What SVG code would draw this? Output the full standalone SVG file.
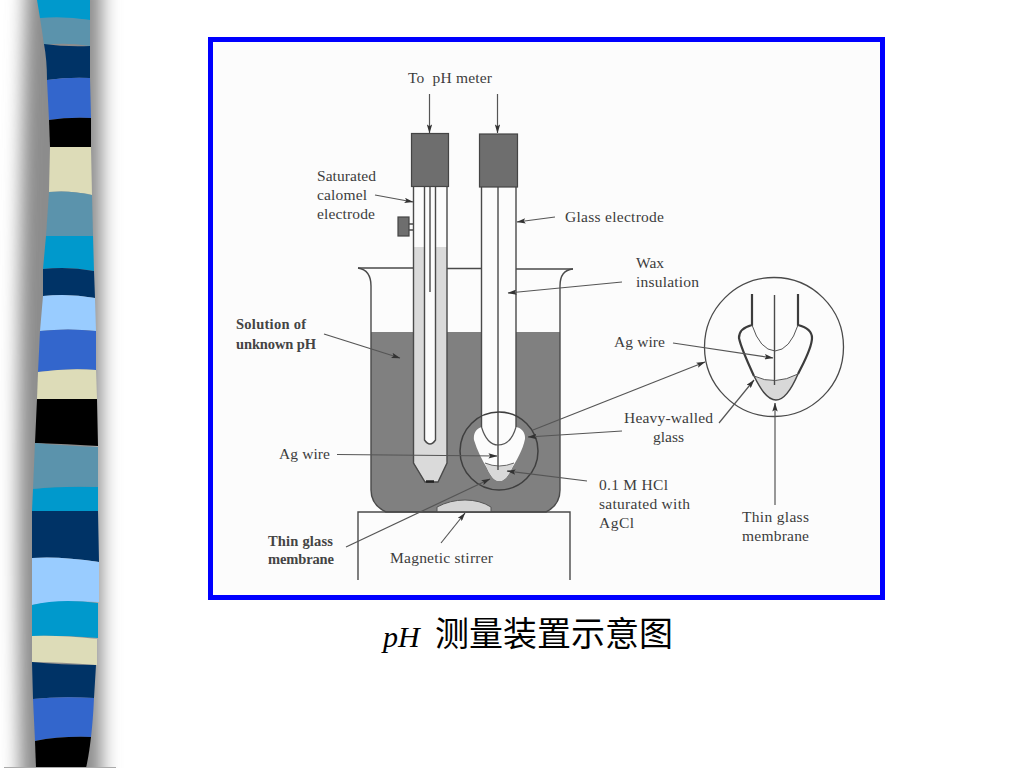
<svg xmlns="http://www.w3.org/2000/svg" width="1024" height="768" viewBox="0 0 1024 768">
<defs>
<filter id="blur" x="-100%" y="-5%" width="300%" height="110%"><feGaussianBlur stdDeviation="9"/></filter>
<marker id="arr" viewBox="0 0 10 6" refX="9.5" refY="3" markerWidth="9" markerHeight="5.5" markerUnits="userSpaceOnUse" orient="auto"><path d="M0 0L10 3L0 6L2 3Z" fill="#333"/></marker>
</defs>
<style>
text{font-family:"Liberation Serif","Times New Roman",serif;font-size:15.5px;fill:#3c3c3c;white-space:pre}
.b{font-weight:bold;fill:#444;font-size:14.5px}
.l{fill:none;stroke:#4a4a4a;stroke-width:1.4}
.h{fill:none;stroke:#3c3c3c;stroke-width:2.2}
.c{fill:none;stroke:#555;stroke-width:1.2;marker-end:url(#arr)}
.cap{fill:#6e6e6e;stroke:#444;stroke-width:1.2}
</style>
<rect width="1024" height="768" fill="#fff"/>
<g id="sidebar">
<path d="M26 -20H102V788H20Q14 400 26 -20Z" fill="#8c8c8c" filter="url(#blur)"/>
<path d="M37 0H90V20L40 18Z" fill="#0099cc"/>
<path d="M40 18Q65 16 90 20V46Q65 42 44 45Q42 30 40 18Z" fill="#5b93ac"/>
<path d="M44 44Q65 47 90 46V78Q68 77 47 80Q47 60 44 44Z" fill="#003366"/>
<path d="M47 80Q68 77 90 78L91 118Q68 117 49 120Z" fill="#3366cc"/>
<path d="M49 120Q68 117 91 118V147H50Z" fill="#000"/>
<path d="M50 147H91L92 195Q70 190 49 192Z" fill="#dddcb8"/>
<path d="M49 192Q70 190 92 195L93 236H46Z" fill="#5b93ac"/>
<path d="M46 236H93L94 271Q68 266 43 269Z" fill="#0099cc"/>
<path d="M43 269Q68 266 94 271L95 298Q68 293 43 296Z" fill="#003366"/>
<path d="M43 296Q68 293 95 298L96 331Q68 328 40 331Z" fill="#99ccff"/>
<path d="M40 331Q68 328 96 331V370Q68 368 38 372Z" fill="#3366cc"/>
<path d="M38 372Q68 368 96 370L97 399H37Z" fill="#dddcb8"/>
<path d="M37 399H97L98 446Q68 444 35 443Z" fill="#000"/>
<path d="M35 443Q68 446 98 447V487Q60 486 33 489Z" fill="#5b93ac"/>
<path d="M33 489Q60 486 98 487V511H32Z" fill="#0099cc"/>
<path d="M32 511H98L99 562Q60 556 32 558Z" fill="#003366"/>
<path d="M32 558Q60 556 99 562V602Q60 600 32 605Z" fill="#99ccff"/>
<path d="M32 605Q60 598 98 603V638Q60 635 32 636Z" fill="#0099cc"/>
<path d="M32 636Q60 635 97 639V665Q60 662 32 662Z" fill="#dddcb8"/>
<path d="M32 662Q60 665 96 665L94 698Q60 696 33 699Z" fill="#003366"/>
<path d="M33 699Q60 696 94 698Q93 720 91 737Q60 736 35 741Z" fill="#3366cc"/>
<path d="M35 741Q60 736 91 737Q89 755 86 768H36Z" fill="#000"/>
<rect x="4" y="767" width="112" height="1" fill="#aaa"/>
</g>
<rect id="frame" x="210.500" y="39.500" width="672" height="558" fill="#fcfcfc" stroke="#0000ff" stroke-width="5"/>
<g id="beaker">
<path d="M371 332H560V490Q560 505 546 512H386Q371 505 371 490Z" fill="#808080"/>
<path d="M358 268Q371 270 371 286V490Q371 505 386 512H546Q560 505 560 490V286Q560 270 573 269" class="l"/>
<path d="M358 268H413M447 268.500H481M516 269H573" class="l"/>
</g>
<g id="stirrer">
<path d="M437 512V507Q450 500 465 500Q480 500 491 507V512Z" fill="#d4d4d4" stroke="#555"/>
<path d="M358 580V512H570V580" class="l"/>
</g>
<g id="calomel-electrode">
<path d="M414 247H447V463L438 482H425L414 463Z" fill="#dadada"/>
<path d="M424 187H436V440Q430 448 424 440Z" fill="#fcfcfc"/>
<path d="M413.500 187V463L425 482H438L447 463V187" class="l"/>
<path d="M424.500 187V440Q430 448 435.500 440V187" class="l"/>
<path d="M430 187V292" class="l"/>
<path d="M426 481.500H434" stroke="#222" stroke-width="2.500"/>
<rect class="cap" x="411.500" y="133.500" width="37" height="53"/>
<rect class="cap" x="398" y="217" width="11" height="19"/>
<path d="M409 224H413M409 230H413" class="l"/>
</g>
<g id="glass-electrode">
<path d="M482 187H516V427C522 428 525.500 433 525 439C523 450 516 461 511 470C508 476 504 481 499 481C495 481 491 477 487 468C482 460 477 450 474 440C473 433 477 428 482 427Z" fill="#fcfcfc"/>
<path d="M485 463Q499 469 514 463L511 470C508 476 504 481 499 481C495 481 491 477 487 468Z" fill="#d8d8d8"/>
<path d="M481.500 187V427M516 187V427" class="l"/>
<path d="M481.500 427Q487 445 498 445Q511 445 516 427" fill="none" stroke="#555" stroke-width="1.200"/>
<path d="M485 463Q499 469 514 463" fill="none" stroke="#666" stroke-width="1"/>
<path d="M498 187V470" class="l"/>
<rect class="cap" x="479.500" y="134" width="38" height="53"/>
<circle cx="499" cy="451" r="39" fill="none" stroke="#3f3f3f" stroke-width="1.500"/>
</g>
<g id="detail">
<circle cx="774" cy="347" r="69.500" fill="#fcfcfc" stroke="#4a4a4a" stroke-width="1.300"/>
<path d="M754 376Q775 386 798 374C792 388 784 400 776 400C767 400 760 388 754 376Z" fill="#d8d8d8"/>
<path d="M752 294V325C744 327 739 331 739 338C741 348 748 363 754 376M798 374C804 362 812 348 812 338C812 331 806 327 798 325V294" class="h"/>
<path d="M754 376C760 388 767 400 776 400C784 400 792 388 798 374" fill="none" stroke="#444" stroke-width="1.500"/>
<path d="M752 325Q760 350 775 351Q790 350 798 325M754 376Q775 386 798 374" fill="none" stroke="#555" stroke-width="1"/>
<path d="M774.500 295V385" class="l"/>
</g>
<g id="connectors">
<path class="c" d="M429.500 94V133"/>
<path class="c" d="M497.500 94V133"/>
<path class="c" d="M375 195L413 202"/>
<path class="c" d="M555 217L517 222"/>
<path class="c" d="M622 282L508 293"/>
<path class="c" d="M324 334L400 358"/>
<path class="c" d="M337 454.500L497 456"/>
<path class="c" d="M346 547L490 479"/>
<path class="c" d="M441 543L465 513"/>
<path class="c" d="M587 481L507 471"/>
<path class="c" d="M622 431L528 437"/>
<path class="c" d="M533 430L705 362"/>
<path class="c" d="M673 343L773 358"/>
<path class="c" d="M719 423L754 380"/>
<path class="c" d="M775 505V403"/>
</g>
<g id="labels">
<text x="408" y="83" textLength="84">To  pH meter</text>
<text x="317" y="181" textLength="59">Saturated</text>
<text x="317" y="200" textLength="50">calomel</text>
<text x="317" y="219" textLength="58">electrode</text>
<text x="565" y="222" textLength="99">Glass electrode</text>
<text x="636" y="268" textLength="28">Wax</text>
<text x="636" y="287" textLength="63">insulation</text>
<text class="b" x="236" y="329" textLength="70">Solution of</text>
<text class="b" x="236" y="349" textLength="80">unknown pH</text>
<text x="614" y="347" textLength="51">Ag wire</text>
<text x="624" y="423" textLength="89">Heavy-walled</text>
<text x="653" y="442" textLength="31">glass</text>
<text x="279" y="459" textLength="51">Ag wire</text>
<text x="599" y="490" textLength="69">0.1 M HCl</text>
<text x="599" y="509" textLength="91">saturated with</text>
<text x="599" y="528" textLength="35">AgCl</text>
<text x="742" y="522" textLength="67">Thin glass</text>
<text x="742" y="541" textLength="67">membrane</text>
<text class="b" x="268" y="546" textLength="65">Thin glass</text>
<text class="b" x="268" y="564" textLength="66">membrane</text>
<text x="390" y="563" textLength="103">Magnetic stirrer</text>
</g>
<g id="caption">
<text x="383" y="647" style="font-size:30px;font-style:italic;fill:#000">pH</text>
<text x="435" y="646" style="font-size:34px;fill:#000;font-family:'Liberation Serif','Noto Sans CJK SC',serif">测量装置示意图</text>
</g>
</svg>
